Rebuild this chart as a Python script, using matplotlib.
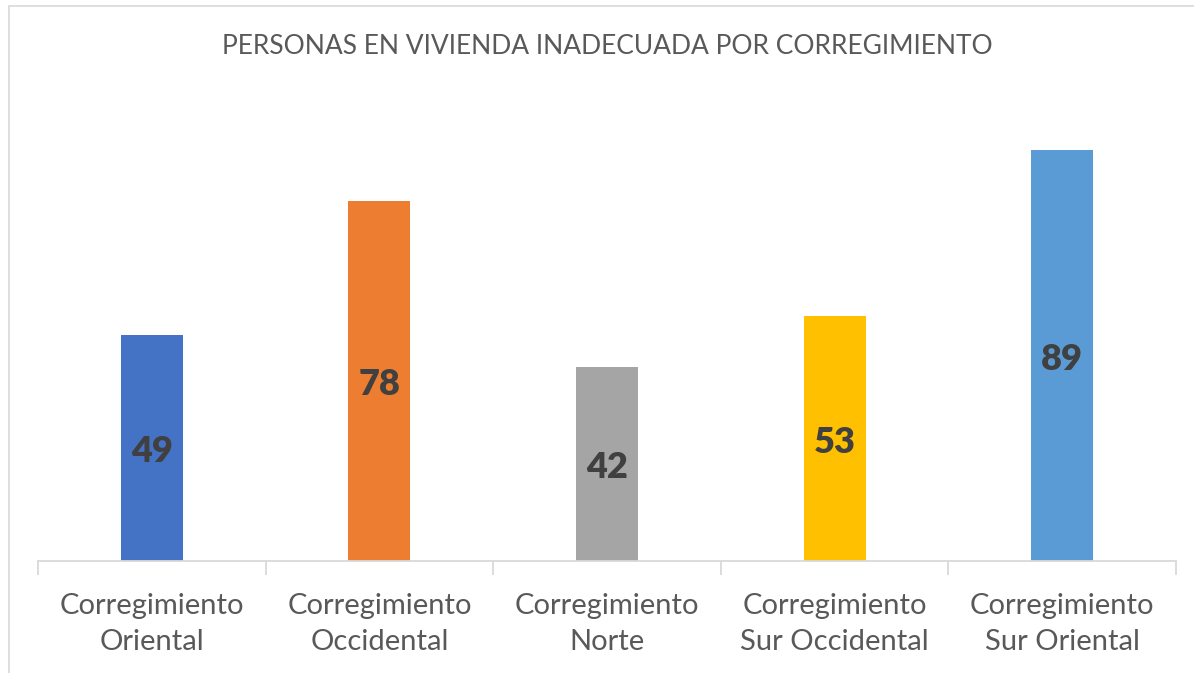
import matplotlib
matplotlib.use("Agg")
import matplotlib.pyplot as plt
from matplotlib.patches import Rectangle

# Data
categories = ["Corregimiento\nOriental", "Corregimiento\nOccidental", "Corregimiento\nNorte",
              "Corregimiento\nSur Occidental", "Corregimiento\nSur Oriental"]
values = [49, 78, 42, 53, 89]
colors = ["#4472C4", "#ED7D31", "#A5A5A5", "#FFC000", "#5B9BD5"]
title = "PERSONAS EN VIVIENDA INADECUADA POR CORREGIMIENTO"

plt.rcParams['font.family'] = ['Lato', 'DejaVu Sans']

fig = plt.figure(figsize=(11.94, 6.73), dpi=100)
ax = fig.add_axes([38 / 1194, 1 - 561 / 673, (1176 - 38) / 1194, (561 - 99) / 673])

x = list(range(len(values)))
bars = ax.bar(x, values, width=0.272, color=colors, zorder=2)

# value labels in the middle of each bar
for xi, v in zip(x, values):
    ax.annotate(str(v), (xi, v / 2), xytext=(0, -4), textcoords='offset pixels',
                ha='center', va='center', fontsize=26,
                fontweight='heavy', color='#404040')

ax.set_xlim(-0.5, len(values) - 0.5)
ax.set_ylim(0, 100)

ax.set_xticks(x)
ax.set_xticklabels(categories, fontsize=21, color='#595959', linespacing=1.5)
ax.tick_params(axis='x', which='major', length=0, pad=23)
ax.set_xticks([i - 0.5 for i in range(len(values) + 1)], minor=True)
ax.tick_params(axis='x', which='minor', length=10, width=1.3, color='#D9D9D9')
ax.set_yticks([])

for s in ['top', 'right', 'left']:
    ax.spines[s].set_visible(False)
ax.spines['bottom'].set_color('#D9D9D9')
ax.spines['bottom'].set_linewidth(1.3)

fig.text(607 / 1194, 1 - 47 / 673, title, ha='center', va='center',
         fontsize=19, color='#595959')

# chart frame (partly cut off at right/bottom)
fig.patches.append(Rectangle((8.5 / 1194, -0.1), 1.2, 1 - 6.5 / 673 + 0.1,
                             transform=fig.transFigure, fill=False,
                             edgecolor='#D9D9D9', linewidth=1.2))

fig.savefig("out.png", dpi=100)
